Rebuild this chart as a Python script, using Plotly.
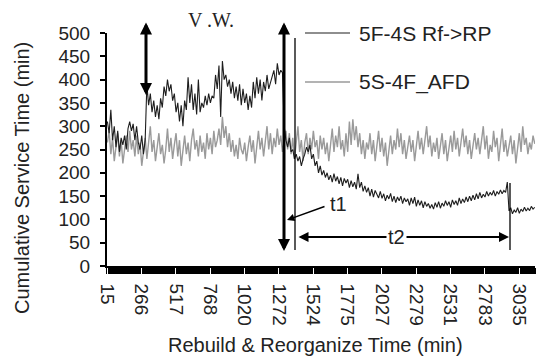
import plotly.graph_objects as go

# ---- data ----
tick_labels = [15, 266, 517, 768, 1020, 1272, 1524, 1775, 2027, 2279, 2531, 2783, 3035]
step_min = 251.67 / 20  # sampling interval (min)

rf_rp = [
    # before the window
    310, 285, 335, 270, 300, 255, 290, 245, 275, 260, 280, 250, 295, 310, 290, 305, 270, 300, 265, 250, 280, 240, 270,
    # inside V.W.
    390, 345, 370, 330, 355, 320, 345, 315, 360, 340, 385, 365, 400, 375, 390, 355, 370, 330, 350, 310, 345, 300,
    355, 335, 405, 350, 390, 335, 370, 325, 400, 330, 350, 340, 365, 345, 370, 350, 365, 360, 410, 380, 430, 320,
    440, 400, 410, 385, 400, 370, 395, 360, 385, 355, 390, 345, 380, 350, 370, 335, 365, 340, 395, 360, 405, 370,
    400, 355, 395, 375, 410, 380, 395, 405, 420, 390, 435, 410, 420, 415,
    # drop
    300, 270, 255, 275, 245, 250, 230, 240, 225, 235, 215, 230, 240, 255, 245, 260, 230, 240, 215, 225, 200, 215,
    195, 205, 190, 200, 185,
    # t2 period
    195, 180, 198, 182, 192, 176, 190, 172, 188, 178, 186, 168, 183, 170, 180, 165, 198, 168, 180, 160,
    172, 158, 168, 150, 165, 148, 162, 152, 146, 160, 145, 155, 140, 152, 144, 156, 138, 150, 136, 148,
    140, 150, 134, 146, 138, 144, 130, 146, 134, 148, 128, 142, 130, 140, 125, 138, 128, 134, 124, 132,
    122, 136, 126, 138, 124, 135, 128, 140, 130, 138, 126, 142, 132, 140, 130, 146, 134, 144, 136, 148,
    138, 150, 140, 152, 142, 155, 144, 158, 146, 154, 148, 160, 150, 158, 152, 162, 150, 160, 154, 163,
    155, 162, 158, 180,
    # after t2
    118, 125, 112, 120, 115, 125, 113, 122, 117, 126, 118, 124, 119, 128, 122, 126,
]

afd = [
    265, 290, 240, 275, 225, 260, 285, 235, 270, 220, 255, 280, 245, 290, 250, 270, 235, 280, 240, 265, 215, 250, 275, 230, 265,
    300, 245, 270, 225, 255, 285, 240, 260, 220, 250, 295, 245, 275, 230, 260, 285, 235, 270, 215, 255, 280, 240, 265, 225, 270,
    295, 250, 270, 235, 280, 245, 265, 230, 285, 250, 275, 240, 290, 255, 270, 295, 260, 320, 275, 300, 255, 285, 245, 270, 235,
    260, 230, 275, 250, 240, 265, 225, 255, 280, 245, 270, 220, 260, 290, 250, 275, 235, 265, 300, 250, 285, 240, 275, 255, 295,
    260, 280, 245, 270, 290, 250, 285, 240, 275, 230, 260, 300, 245, 270, 225, 265, 285, 240, 275, 250, 290, 255, 270, 230, 280,
    250, 275, 240, 265, 225, 260, 295, 245, 280, 255, 300, 250, 270, 235, 285, 245, 310, 260, 315, 270, 300, 255, 285, 240, 270,
    230, 265, 250, 285, 240, 270, 225, 260, 290, 245, 275, 235, 265, 215, 255, 280, 240, 270, 250, 295, 255, 285, 240, 270, 230,
    260, 280, 245, 270, 225, 255, 290, 250, 275, 240, 265, 300, 255, 280, 235, 265, 245, 275, 230, 260, 285, 240, 270, 225, 255,
    280, 245, 290, 250, 275, 235, 265, 295, 255, 280, 240, 270, 230, 260, 285, 250, 275, 240, 265, 300, 250, 280, 230, 260, 245,
    290, 255, 275, 225, 265, 295, 245, 270, 235, 260, 280, 240, 270, 220, 255, 285, 245, 300, 260, 275, 240, 265, 250, 280, 262,
]

times = [15 + i * step_min for i in range(len(rf_rp))]
times_afd = [15 + i * step_min for i in range(len(afd))]

FONT = "Liberation Sans, Arial, sans-serif"
W, H = 541, 361
L, R, T, B = 107, 6, 33, 95
X0, X1 = 12, 3150
Y0, Y1 = 0, 500
pw, ph = W - L - R, H - T - B


def tx(px):
    return X0 + (px - L) * (X1 - X0) / pw


def vy(py):
    return Y0 + (T + ph - py) * (Y1 - Y0) / ph


def px_(px):
    return (px - L) / pw


def py_(py):
    return (T + ph - py) / ph


fig = go.Figure()
fig.add_trace(go.Scatter(x=times_afd, y=afd, mode="lines", name="5S-4F_AFD",
                         line=dict(color="#9a9a9a", width=1.4), showlegend=False))
fig.add_trace(go.Scatter(x=times, y=rf_rp, mode="lines", name="5F-4S Rf->RP",
                         line=dict(color="#1e1e1e", width=1.1), showlegend=False))

fig.update_layout(
    width=W, height=H,
    margin=dict(l=L, r=R, t=T, b=B, pad=0),
    paper_bgcolor="white", plot_bgcolor="white",
    font=dict(family=FONT, color="#222", size=19),
    xaxis=dict(
        range=[X0, X1], tickmode="array", tickvals=tick_labels,
        ticktext=[str(v) for v in tick_labels], tickangle=90,
        ticks="outside", ticklen=6, tickwidth=1, tickcolor="white",
        showline=True, linecolor="black", linewidth=1.5,
        showgrid=False, zeroline=False, ticklabelstandoff=6,
        tickfont=dict(size=19),
        minor=dict(ticks="outside", ticklen=6, tickwidth=1.6, tickcolor="black",
                   tickmode="linear", tick0=15, dtick=step_min, showgrid=False),
    ),
    yaxis=dict(
        range=[Y0, Y1], tickmode="linear", tick0=0, dtick=50,
        ticks="outside", ticklen=5, tickwidth=1.5, tickcolor="black",
        showline=True, linecolor="black", linewidth=2,
        showgrid=False, zeroline=False, ticklabelstandoff=6,
        tickfont=dict(size=19),
    ),
)

# axis titles
fig.add_annotation(xref="paper", yref="paper", x=px_(22), y=py_(178), text="Cumulative Service Time (min)",
                   textangle=-90, showarrow=False, font=dict(size=20, family=FONT),
                   xanchor="center", yanchor="middle")
fig.add_annotation(xref="paper", yref="paper", x=px_(315), y=py_(345), text="Rebuild & Reorganize Time (min)",
                   showarrow=False, font=dict(size=20, family=FONT), xanchor="center", yanchor="middle")

# legend (drawn by hand)
for yy, col, w, label in [(33, "#1e1e1e", 1.1, "5F-4S Rf->RP"), (82, "#9a9a9a", 1.4, "5S-4F_AFD")]:
    fig.add_shape(type="line", xref="paper", yref="paper", x0=px_(305), x1=px_(350), y0=py_(yy), y1=py_(yy),
                  line=dict(color=col, width=w))
    fig.add_annotation(xref="paper", yref="paper", x=px_(357), y=py_(yy), text=label, showarrow=False,
                       xanchor="left", yanchor="middle", font=dict(size=21, family=FONT, color="#222"))


def arrow(x_head, y_head, x_tail, y_tail, width=2, both=False, size=1.0):
    fig.add_annotation(x=tx(x_head), y=vy(y_head), ax=tx(x_tail), ay=vy(y_tail),
                       xref="x", yref="y", axref="x", ayref="y", text="", showarrow=True,
                       arrowhead=2, startarrowhead=2, arrowsize=size, startarrowsize=size,
                       arrowwidth=width, arrowcolor="black",
                       arrowside="end+start" if both else "end")


# V.W. window markers
arrow(146, 95, 146, 21, width=3, both=True, size=0.8)
arrow(151, 18, 166, 18, width=2, size=1.0)
arrow(284, 251, 284, 21, width=3, both=True, size=0.8)
arrow(282, 18, 267, 18, width=2, size=1.0)
fig.add_annotation(xref="paper", yref="paper", x=px_(211), y=py_(20), text="V .W.", showarrow=False,
                   font=dict(family="Liberation Serif, Times New Roman, serif", size=20, color="#222"),
                   xanchor="center", yanchor="middle")

# thin verticals
fig.add_shape(type="line", xref="x", yref="y", x0=tx(295), x1=tx(295), y0=vy(38), y1=vy(250),
              line=dict(color="black", width=1.3))
fig.add_shape(type="line", xref="x", yref="y", x0=tx(510), x1=tx(510), y0=vy(183), y1=vy(250),
              line=dict(color="black", width=1.3))

# t1
arrow(287, 220, 326, 206, width=1.5, size=1.0)
fig.add_annotation(xref="paper", yref="paper", x=px_(338), y=py_(204), text="t1", showarrow=False,
                   font=dict(size=20, family=FONT, color="#222"), xanchor="center", yanchor="middle")

# t2
arrow(509, 237, 297, 237, width=2, both=True, size=1.0)
fig.add_annotation(xref="paper", yref="paper", x=px_(396), y=py_(237), text="t2", showarrow=False,
                   bgcolor="white", font=dict(size=20, family=FONT, color="#222"),
                   xanchor="center", yanchor="middle")

fig.write_html("out.html")
